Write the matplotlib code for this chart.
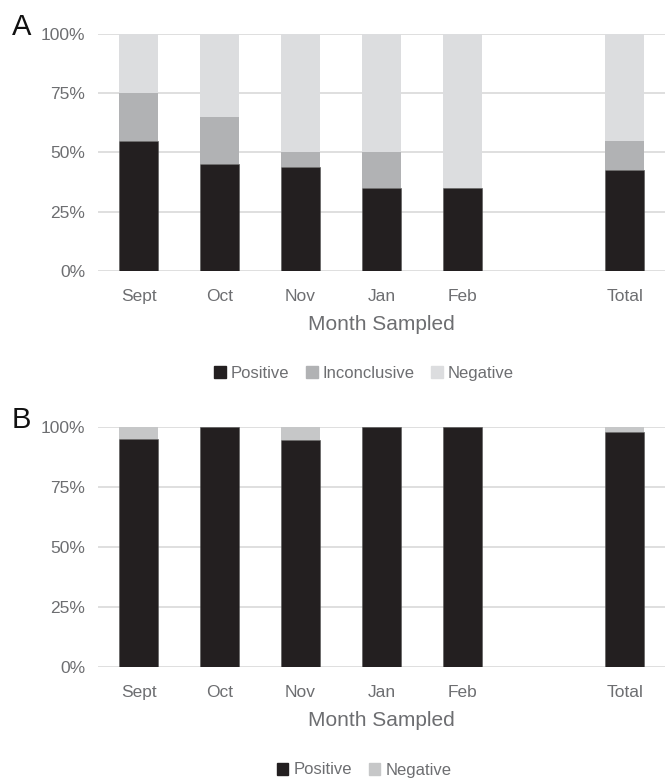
import matplotlib.pyplot as plt
from matplotlib.patches import Patch

plt.rcParams['font.family'] = ['Liberation Sans', 'DejaVu Sans']

months = ['Sept', 'Oct', 'Nov', 'Jan', 'Feb', '', 'Total']

# panel A (percent of samples)
a_positive = [55, 45, 44, 35, 35, 0, 42.5]
a_inconclusive = [20, 20, 6, 15, 0, 0, 12.5]
a_negative = [25, 35, 50, 50, 65, 0, 45]

# panel B
b_positive = [95, 100, 94.5, 100, 100, 0, 98]
b_negative = [5, 0, 5.5, 0, 0, 0, 2]

dark = '#231f20'
grey_txt = '#6d6e71'
grid_c = '#d9d9d9'

fig = plt.figure(figsize=(6.68, 7.8), dpi=100)
axA = fig.add_axes([0.1467, 0.6526, 0.849, 0.3038])
axB = fig.add_axes([0.1467, 0.1449, 0.849, 0.3077])

x = list(range(len(months)))


def style(ax, letter):
    ax.set_ylim(0, 100)
    ax.set_xlim(-0.5, len(months) - 0.5)
    ax.set_yticks([0, 25, 50, 75, 100])
    ax.set_yticklabels(['0%', '25%', '50%', '75%', '100%'])
    ax.set_xticks(x)
    ax.set_xticklabels(months)
    ax.yaxis.grid(True, color=grid_c, lw=1.2)
    ax.set_axisbelow(True)
    for s in ax.spines.values():
        s.set_visible(False)
    ax.tick_params(length=0, labelsize=12.5, colors=grey_txt, pad=9)
    ax.tick_params(axis='x', pad=13)
    ax.set_xlabel('Month Sampled', fontsize=15, color=grey_txt, labelpad=8)
    ax.text(-0.152, 1.03, letter, transform=ax.transAxes, fontsize=21,
            color='#111111', va='center', ha='left')


w = 0.49
axA.bar(x, a_positive, w, color=dark, edgecolor='#555555', lw=0.4)
axA.bar(x, a_inconclusive, w, bottom=a_positive, color='#b1b2b4', lw=0)
bottomA = [p + i for p, i in zip(a_positive, a_inconclusive)]
axA.bar(x, a_negative, w, bottom=bottomA, color='#dcdddf', lw=0)
style(axA, 'A')

axB.bar(x, b_positive, w, color=dark, edgecolor='#555555', lw=0.4)
axB.bar(x, b_negative, w, bottom=b_positive, color='#c6c7c8', lw=0)
style(axB, 'B')

leg_kw = dict(loc='center', ncol=3, frameon=False, fontsize=12,
              handlelength=0.7, handleheight=0.7, handletextpad=0.3,
              columnspacing=1.0, labelcolor=grey_txt)
fig.legend(handles=[Patch(color=dark, label='Positive'),
                    Patch(color='#b1b2b4', label='Inconclusive'),
                    Patch(color='#dcdddf', label='Negative')],
           bbox_to_anchor=(0.545, 1 - 373 / 780), **leg_kw)
fig.legend(handles=[Patch(color=dark, label='Positive'),
                    Patch(color='#c6c7c8', label='Negative')],
           bbox_to_anchor=(0.545, 1 - 770 / 780), **leg_kw)

fig.savefig('out.png', dpi=100)
